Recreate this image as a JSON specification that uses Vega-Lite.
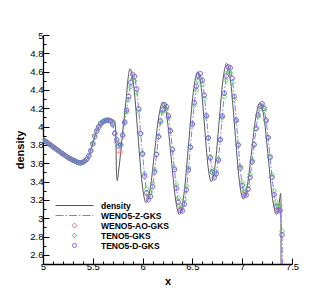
{
  "$schema": "https://vega.github.io/schema/vega-lite/v6.json",
  "width": 249,
  "height": 229,
  "autosize": "none",
  "padding": {"left": 43, "top": 35, "right": 40, "bottom": 32},
  "config": {"view": {"stroke": null}, "font": "Liberation Sans"},
  "datasets": {
    "ref": [
      {"x": 5.0, "y": 3.855}, {"x": 5.05, "y": 3.82}, {"x": 5.1, "y": 3.78}, {"x": 5.15, "y": 3.74},
      {"x": 5.2, "y": 3.7}, {"x": 5.25, "y": 3.665}, {"x": 5.3, "y": 3.635}, {"x": 5.35, "y": 3.61},
      {"x": 5.38, "y": 3.603}, {"x": 5.41, "y": 3.61}, {"x": 5.44, "y": 3.64}, {"x": 5.47, "y": 3.71},
      {"x": 5.5, "y": 3.82}, {"x": 5.53, "y": 3.93}, {"x": 5.56, "y": 4.0}, {"x": 5.6, "y": 4.05},
      {"x": 5.65, "y": 4.075}, {"x": 5.7, "y": 4.075}, {"x": 5.72, "y": 4.06}, {"x": 5.73, "y": 3.95},
      {"x": 5.738, "y": 3.5}, {"x": 5.745, "y": 3.41}, {"x": 5.76, "y": 3.52}, {"x": 5.78, "y": 3.72},
      {"x": 5.81, "y": 4.05}, {"x": 5.835, "y": 4.3}, {"x": 5.857, "y": 4.55}, {"x": 5.873, "y": 4.63},
      {"x": 5.9135, "y": 4.417}, {"x": 5.954, "y": 3.9}, {"x": 5.9945, "y": 3.383}, {"x": 6.035, "y": 3.17},
      {"x": 6.0775, "y": 3.331}, {"x": 6.12, "y": 3.72}, {"x": 6.1625, "y": 4.109}, {"x": 6.205, "y": 4.27},
      {"x": 6.246, "y": 4.09}, {"x": 6.2875, "y": 3.655}, {"x": 6.329, "y": 3.22}, {"x": 6.37, "y": 3.04},
      {"x": 6.416, "y": 3.268}, {"x": 6.4625, "y": 3.82}, {"x": 6.509, "y": 4.372}, {"x": 6.555, "y": 4.6},
      {"x": 6.589, "y": 4.425}, {"x": 6.6225, "y": 4.0}, {"x": 6.656, "y": 3.575}, {"x": 6.69, "y": 3.4},
      {"x": 6.729, "y": 3.588}, {"x": 6.7675, "y": 4.045}, {"x": 6.806, "y": 4.502}, {"x": 6.845, "y": 4.69},
      {"x": 6.886, "y": 4.474}, {"x": 6.9275, "y": 3.95}, {"x": 6.969, "y": 3.426}, {"x": 7.01, "y": 3.21},
      {"x": 7.0525, "y": 3.363}, {"x": 7.095, "y": 3.735}, {"x": 7.1375, "y": 4.107}, {"x": 7.18, "y": 4.26},
      {"x": 7.221, "y": 4.082}, {"x": 7.2625, "y": 3.65}, {"x": 7.304, "y": 3.218}, {"x": 7.345, "y": 3.04},
      {"x": 7.365, "y": 3.1}, {"x": 7.38, "y": 3.24}, {"x": 7.386, "y": 3.27}, {"x": 7.389, "y": 3.2},
      {"x": 7.3905, "y": 1.5}
    ],
    "sim": [
      {"x": 5.0, "a": 3.855, "t": 3.855, "d": 3.855},
      {"x": 5.02, "a": 3.842, "t": 3.842, "d": 3.842},
      {"x": 5.04, "a": 3.828, "t": 3.828, "d": 3.828},
      {"x": 5.06, "a": 3.812, "t": 3.812, "d": 3.812},
      {"x": 5.08, "a": 3.796, "t": 3.796, "d": 3.796},
      {"x": 5.1, "a": 3.78, "t": 3.78, "d": 3.78},
      {"x": 5.12, "a": 3.764, "t": 3.764, "d": 3.764},
      {"x": 5.14, "a": 3.748, "t": 3.748, "d": 3.748},
      {"x": 5.16, "a": 3.732, "t": 3.732, "d": 3.732},
      {"x": 5.18, "a": 3.716, "t": 3.716, "d": 3.716},
      {"x": 5.2, "a": 3.7, "t": 3.7, "d": 3.7},
      {"x": 5.22, "a": 3.686, "t": 3.686, "d": 3.686},
      {"x": 5.24, "a": 3.672, "t": 3.672, "d": 3.672},
      {"x": 5.26, "a": 3.658, "t": 3.658, "d": 3.658},
      {"x": 5.28, "a": 3.646, "t": 3.646, "d": 3.646},
      {"x": 5.3, "a": 3.635, "t": 3.635, "d": 3.635},
      {"x": 5.32, "a": 3.624, "t": 3.624, "d": 3.624},
      {"x": 5.34, "a": 3.614, "t": 3.614, "d": 3.614},
      {"x": 5.36, "a": 3.606, "t": 3.606, "d": 3.606},
      {"x": 5.38, "a": 3.603, "t": 3.603, "d": 3.603},
      {"x": 5.4, "a": 3.61, "t": 3.61, "d": 3.61},
      {"x": 5.42, "a": 3.625, "t": 3.625, "d": 3.625},
      {"x": 5.44, "a": 3.645, "t": 3.645, "d": 3.645},
      {"x": 5.46, "a": 3.68, "t": 3.685, "d": 3.68},
      {"x": 5.48, "a": 3.735, "t": 3.745, "d": 3.735},
      {"x": 5.5, "a": 3.81, "t": 3.825, "d": 3.81},
      {"x": 5.52, "a": 3.89, "t": 3.91, "d": 3.89},
      {"x": 5.54, "a": 3.95, "t": 3.97, "d": 3.95},
      {"x": 5.56, "a": 3.995, "t": 4.01, "d": 3.995},
      {"x": 5.58, "a": 4.03, "t": 4.04, "d": 4.03},
      {"x": 5.6, "a": 4.05, "t": 4.055, "d": 4.05},
      {"x": 5.62, "a": 4.063, "t": 4.065, "d": 4.063},
      {"x": 5.64, "a": 4.07, "t": 4.07, "d": 4.07},
      {"x": 5.66, "a": 4.068, "t": 4.068, "d": 4.068},
      {"x": 5.68, "a": 4.062, "t": 4.055, "d": 4.062},
      {"x": 5.7, "a": 4.03, "t": 4.017, "d": 4.03},
      {"x": 5.72, "a": 3.92, "t": 3.924, "d": 3.93},
      {"x": 5.74, "a": 3.83, "t": 3.859, "d": 3.86},
      {"x": 5.76, "a": 3.74, "t": 3.81, "d": 3.79},
      {"x": 5.78, "a": 3.72, "t": 3.804, "d": 3.8},
      {"x": 5.8, "a": 3.89, "t": 3.906, "d": 3.91},
      {"x": 5.82, "a": 4.05, "t": 4.036, "d": 4.05},
      {"x": 5.84, "a": 4.18, "t": 4.157, "d": 4.18},
      {"x": 5.86, "a": 4.33, "t": 4.296, "d": 4.33},
      {"x": 5.88, "a": 4.48, "t": 4.436, "d": 4.48},
      {"x": 5.9, "a": 4.57, "t": 4.52, "d": 4.57},
      {"x": 5.92, "a": 4.548, "t": 4.499, "d": 4.548},
      {"x": 5.94, "a": 4.413, "t": 4.374, "d": 4.413},
      {"x": 5.96, "a": 4.194, "t": 4.17, "d": 4.194},
      {"x": 5.98, "a": 3.925, "t": 3.92, "d": 3.925},
      {"x": 6.0, "a": 3.7, "t": 3.711, "d": 3.7},
      {"x": 6.02, "a": 3.46, "t": 3.487, "d": 3.46},
      {"x": 6.04, "a": 3.27, "t": 3.32, "d": 3.28},
      {"x": 6.06, "a": 3.22, "t": 3.246, "d": 3.2},
      {"x": 6.08, "a": 3.237, "t": 3.28, "d": 3.237},
      {"x": 6.1, "a": 3.344, "t": 3.38, "d": 3.344},
      {"x": 6.12, "a": 3.505, "t": 3.529, "d": 3.505},
      {"x": 6.14, "a": 3.695, "t": 3.706, "d": 3.695},
      {"x": 6.16, "a": 3.89, "t": 3.887, "d": 3.89},
      {"x": 6.18, "a": 4.06, "t": 4.045, "d": 4.06},
      {"x": 6.2, "a": 4.182, "t": 4.159, "d": 4.182},
      {"x": 6.22, "a": 4.238, "t": 4.211, "d": 4.238},
      {"x": 6.24, "a": 4.217, "t": 4.191, "d": 4.217},
      {"x": 6.26, "a": 4.117, "t": 4.098, "d": 4.117},
      {"x": 6.28, "a": 3.955, "t": 3.948, "d": 3.955},
      {"x": 6.3, "a": 3.748, "t": 3.755, "d": 3.748},
      {"x": 6.32, "a": 3.53, "t": 3.552, "d": 3.53},
      {"x": 6.34, "a": 3.327, "t": 3.364, "d": 3.327},
      {"x": 6.36, "a": 3.18, "t": 3.22, "d": 3.173},
      {"x": 6.38, "a": 3.1, "t": 3.139, "d": 3.085},
      {"x": 6.4, "a": 3.09, "t": 3.131, "d": 3.077},
      {"x": 6.42, "a": 3.154, "t": 3.203, "d": 3.154},
      {"x": 6.44, "a": 3.31, "t": 3.348, "d": 3.31},
      {"x": 6.46, "a": 3.526, "t": 3.549, "d": 3.526},
      {"x": 6.48, "a": 3.774, "t": 3.779, "d": 3.774},
      {"x": 6.5, "a": 4.029, "t": 4.016, "d": 4.029},
      {"x": 6.52, "a": 4.261, "t": 4.232, "d": 4.261},
      {"x": 6.54, "a": 4.441, "t": 4.4, "d": 4.441},
      {"x": 6.56, "a": 4.552, "t": 4.503, "d": 4.552},
      {"x": 6.58, "a": 4.578, "t": 4.527, "d": 4.578},
      {"x": 6.6, "a": 4.506, "t": 4.46, "d": 4.506},
      {"x": 6.62, "a": 4.343, "t": 4.308, "d": 4.343},
      {"x": 6.64, "a": 4.119, "t": 4.1, "d": 4.119},
      {"x": 6.66, "a": 3.877, "t": 3.875, "d": 3.877},
      {"x": 6.68, "a": 3.658, "t": 3.671, "d": 3.658},
      {"x": 6.7, "a": 3.503, "t": 3.527, "d": 3.503},
      {"x": 6.72, "a": 3.45, "t": 3.47, "d": 3.441},
      {"x": 6.74, "a": 3.485, "t": 3.511, "d": 3.485},
      {"x": 6.76, "a": 3.633, "t": 3.648, "d": 3.633},
      {"x": 6.78, "a": 3.856, "t": 3.855, "d": 3.856},
      {"x": 6.8, "a": 4.115, "t": 4.096, "d": 4.115},
      {"x": 6.82, "a": 4.363, "t": 4.327, "d": 4.363},
      {"x": 6.84, "a": 4.553, "t": 4.504, "d": 4.553},
      {"x": 6.86, "a": 4.651, "t": 4.595, "d": 4.651},
      {"x": 6.88, "a": 4.641, "t": 4.586, "d": 4.641},
      {"x": 6.9, "a": 4.528, "t": 4.481, "d": 4.528},
      {"x": 6.92, "a": 4.329, "t": 4.296, "d": 4.329},
      {"x": 6.94, "a": 4.073, "t": 4.057, "d": 4.073},
      {"x": 6.96, "a": 3.8, "t": 3.803, "d": 3.8},
      {"x": 6.98, "a": 3.548, "t": 3.569, "d": 3.548},
      {"x": 7.0, "a": 3.358, "t": 3.392, "d": 3.358},
      {"x": 7.02, "a": 3.27, "t": 3.296, "d": 3.254},
      {"x": 7.04, "a": 3.26, "t": 3.291, "d": 3.249},
      {"x": 7.06, "a": 3.318, "t": 3.355, "d": 3.318},
      {"x": 7.08, "a": 3.446, "t": 3.474, "d": 3.446},
      {"x": 7.1, "a": 3.614, "t": 3.631, "d": 3.614},
      {"x": 7.12, "a": 3.802, "t": 3.805, "d": 3.802},
      {"x": 7.14, "a": 3.981, "t": 3.972, "d": 3.981},
      {"x": 7.16, "a": 4.128, "t": 4.109, "d": 4.128},
      {"x": 7.18, "a": 4.222, "t": 4.196, "d": 4.222},
      {"x": 7.2, "a": 4.25, "t": 4.222, "d": 4.25},
      {"x": 7.22, "a": 4.199, "t": 4.175, "d": 4.199},
      {"x": 7.24, "a": 4.07, "t": 4.055, "d": 4.07},
      {"x": 7.26, "a": 3.883, "t": 3.881, "d": 3.883},
      {"x": 7.28, "a": 3.665, "t": 3.678, "d": 3.665},
      {"x": 7.3, "a": 3.446, "t": 3.474, "d": 3.446},
      {"x": 7.32, "a": 3.259, "t": 3.3, "d": 3.259},
      {"x": 7.34, "a": 3.131, "t": 3.181, "d": 3.131},
      {"x": 7.36, "a": 3.09, "t": 3.134, "d": 3.08},
      {"x": 7.38, "a": 3.085, "t": 3.139, "d": 3.085},
      {"x": 7.4, "a": 2.82, "t": 2.86, "d": 2.82},
      {"x": 7.42, "a": 1.5, "t": 1.5, "d": 1.5}
    ]
  },
  "encoding": {
    "x": {
      "field": "x",
      "type": "quantitative",
      "scale": {"domain": [5, 7.5], "nice": false, "zero": false},
      "axis": {
        "title": "x",
        "titleFont": "Liberation Sans",
        "titleFontSize": 11,
        "titleFontWeight": "bold",
        "titleColor": "black",
        "titlePadding": 2,
        "grid": false,
        "values": [5, 5.1, 5.2, 5.3, 5.4, 5.5, 5.6, 5.7, 5.8, 5.9, 6, 6.1, 6.2, 6.3, 6.4, 6.5, 6.6, 6.7, 6.8, 6.9, 7, 7.1, 7.2, 7.3, 7.4, 7.5],
        "labelExpr": "abs(datum.value*2-round(datum.value*2))<0.001 ? format(datum.value,'~g') : ''",
        "labelFont": "Liberation Sans",
        "labelFontSize": 9.5,
        "labelColor": "black",
        "labelPadding": 3,
        "labelFlush": false,
        "labelOverlap": false,
        "domainColor": "black",
        "domainWidth": 1.3,
        "tickColor": "black",
        "tickWidth": 1,
        "tickSize": {"condition": {"test": "abs(datum.value*2-round(datum.value*2))<0.001", "value": -6}, "value": -3}
      }
    },
    "y": {
      "type": "quantitative",
      "scale": {"domain": [2.5, 5], "nice": false, "zero": false},
      "axis": {
        "title": "density",
        "titleFont": "Liberation Sans",
        "titleFontSize": 11,
        "titleFontWeight": "bold",
        "titleColor": "black",
        "titlePadding": 4,
        "grid": false,
        "values": [2.5, 2.6, 2.7, 2.8, 2.9, 3, 3.1, 3.2, 3.3, 3.4, 3.5, 3.6, 3.7, 3.8, 3.9, 4, 4.1, 4.2, 4.3, 4.4, 4.5, 4.6, 4.7, 4.8, 4.9, 5],
        "labelExpr": "abs(datum.value*5-round(datum.value*5))<0.001 ? format(datum.value,'~g') : ''",
        "labelFont": "Liberation Sans",
        "labelFontSize": 9.5,
        "labelColor": "black",
        "labelPadding": 6,
        "labelFlush": false,
        "labelOverlap": false,
        "domainColor": "black",
        "domainWidth": 1.3,
        "tickColor": "black",
        "tickWidth": 1,
        "tickSize": {"condition": {"test": "abs(datum.value*5-round(datum.value*5))<0.001", "value": -6}, "value": -3}
      }
    }
  },
  "layer": [
    {
      "data": {"name": "ref"},
      "mark": {"type": "line", "color": "#555555", "strokeWidth": 1, "clip": true, "interpolate": "monotone"},
      "encoding": {"y": {"field": "y", "type": "quantitative"}}
    },
    {
      "data": {"name": "sim"},
      "mark": {"type": "line", "color": "#7b7bff", "strokeWidth": 1, "strokeDash": [6, 2, 1.5, 2], "clip": true},
      "encoding": {"y": {"field": "d", "type": "quantitative"}}
    },
    {
      "data": {"name": "sim"},
      "transform": [{"fold": ["a", "t", "d"], "as": ["s", "v"]}],
      "mark": {"type": "point", "filled": false, "size": 121, "strokeWidth": 0.75, "opacity": 1, "clip": true},
      "encoding": {
        "y": {"field": "v", "type": "quantitative"},
        "color": {
          "field": "s",
          "type": "nominal",
          "scale": {"domain": ["ref", "z", "a", "t", "d"], "range": ["#555555", "#7b7bff", "#e87878", "#3cc83c", "#5a5aff"]},
          "legend": {
            "orient": "none", "legendX": 26, "legendY": 165, "title": null, "padding": 0,
            "symbolSize": 100, "symbolStrokeWidth": 1, "labelOffset": 21, "rowPadding": 0,
            "labelFont": "Liberation Sans", "labelFontSize": 8.5, "labelFontWeight": "bold", "labelColor": "black",
            "labelExpr": "datum.label=='ref' ? 'density' : datum.label=='z' ? 'WENO5-Z-GKS' : datum.label=='a' ? 'WENO5-AO-GKS' : datum.label=='t' ? 'TENO5-GKS' : 'TENO5-D-GKS'"
          }
        },
        "shape": {
          "field": "s",
          "type": "nominal",
          "scale": {
            "domain": ["ref", "z", "a", "t", "d"],
            "range": [
              "M-3.8,0H3.8",
              "M-3.8,0H-2.2M-1.8,0H-1.5M-1.1,0H0.5M0.9,0H1.2M1.6,0H3.2M3.6,0H3.8",
              "M0.4,0A0.4,0.4,0,1,1,-0.4,0A0.4,0.4,0,1,1,0.4,0Z",
              "M0,-0.45L0.45,0L0,0.45L-0.45,0Z",
              "M0.4,0A0.4,0.4,0,1,1,-0.4,0A0.4,0.4,0,1,1,0.4,0Z"
            ]
          },
          "legend": {
            "orient": "none", "legendX": 26, "legendY": 165, "title": null, "padding": 0,
            "symbolSize": 100, "symbolStrokeWidth": 1, "labelOffset": 21, "rowPadding": 0,
            "labelFont": "Liberation Sans", "labelFontSize": 8.5, "labelFontWeight": "bold", "labelColor": "black",
            "labelExpr": "datum.label=='ref' ? 'density' : datum.label=='z' ? 'WENO5-Z-GKS' : datum.label=='a' ? 'WENO5-AO-GKS' : datum.label=='t' ? 'TENO5-GKS' : 'TENO5-D-GKS'"
          }
        }
      }
    }
  ]
}
